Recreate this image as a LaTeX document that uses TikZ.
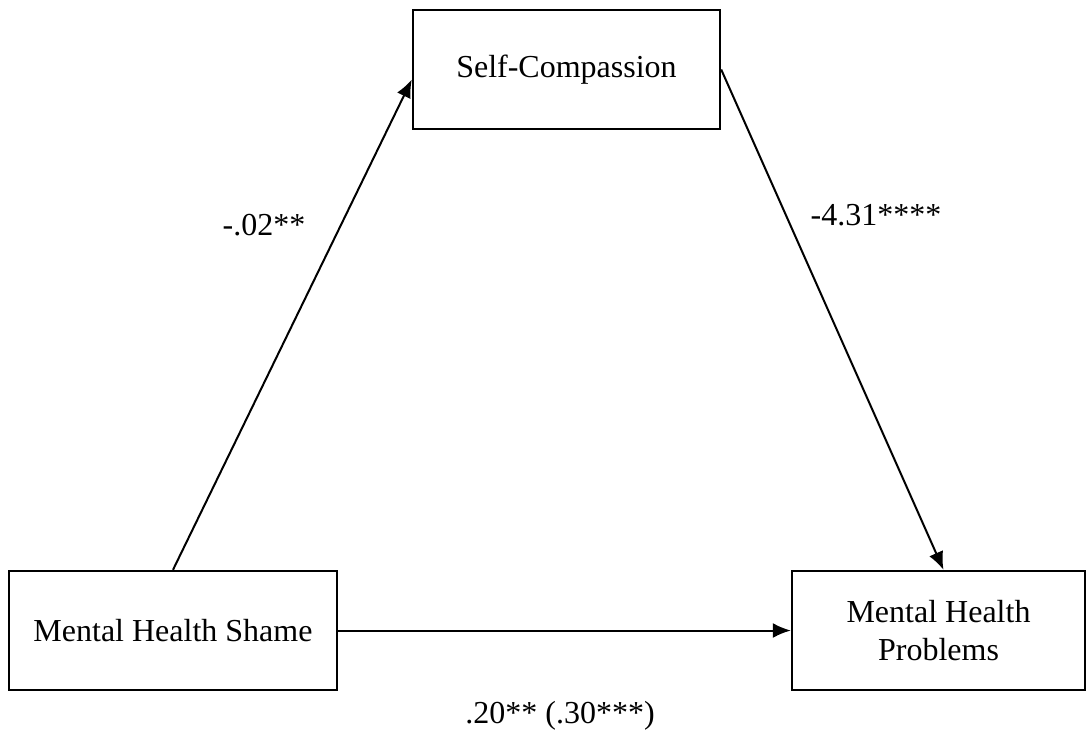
\documentclass[tikz,border=0pt]{standalone}
\usepackage{fontspec}
\setmainfont{Liberation Serif}
\usetikzlibrary{arrows.meta}

\tikzset{
  varbox/.style={draw, line width=1.2pt, minimum height=59.5pt, align=center,
    inner sep=2pt, font=\fontsize{16}{19}\selectfont},
  coef/.style={anchor=base, inner sep=0pt, font=\fontsize{16}{19}\selectfont},
  effect/.style={-{Latex[length=9pt,width=7.5pt]}, line width=1pt},
}

\begin{document}
\begin{tikzpicture}[x=0.5pt, y=-0.5pt]
  \useasboundingbox (0,0) rectangle (1086,740);

  % variables
  \node[varbox, minimum width=153.5pt] (selfc) at (566.5,69.5) {Self-Compassion};
  \node[varbox, minimum width=164pt] (shame) at (173,630.5) {Mental Health Shame};
  \node[varbox, minimum width=146.5pt] (problems) at (938.5,630.5) {Mental Health\\Problems};

  % paths
  \draw[effect] (shame.north) -- ([yshift=-5pt]selfc.west);
  \draw[effect] (selfc.east) -- ([xshift=2.5pt]problems.north);
  \draw[effect] (shame.east) -- (problems.west);

  % coefficients
  \node[coef] (apath) at (264,235) {-.02**};
  \node[coef] (bpath) at (876,225) {-4.31****};
  \node[coef] (cpath) at (560,723) {.20** (.30***)};
\end{tikzpicture}
\end{document}
